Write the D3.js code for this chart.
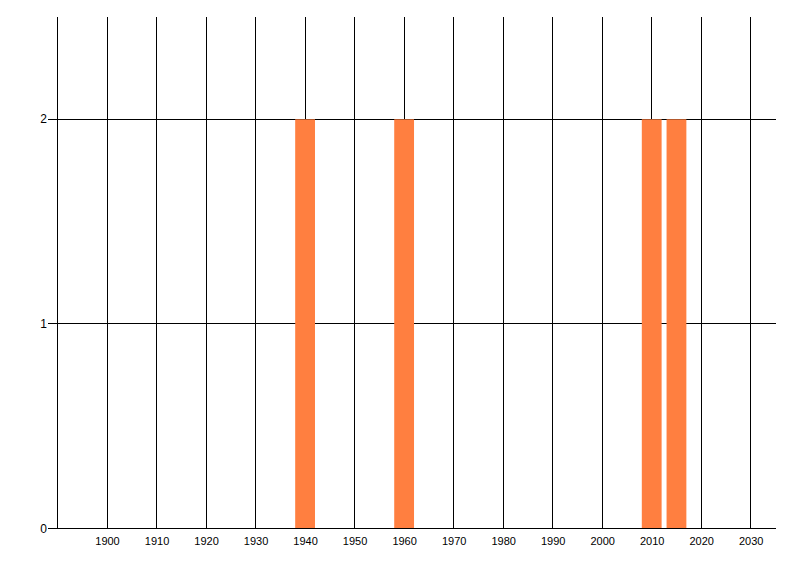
<!DOCTYPE html>
<html><head><meta charset="utf-8">
<script src="https://cdn.jsdelivr.net/npm/d3@7"></script>
<style>body{margin:0;background:#fff}svg{display:block}</style>
</head><body>
<svg id="c" width="800" height="576"></svg>
<script>
const years = [1940, 1960, 2010, 2015];
const counts = [2, 2, 2, 2];
const xTicks = [1900, 1910, 1920, 1930, 1940, 1950, 1960, 1970, 1980, 1990, 2000, 2010, 2020, 2030];
const yTicks = [0, 1, 2];

const svg = d3.select("#c");
const x = d3.scaleLinear().domain([1890, 2035]).range([57.5, 775.5]);
const y = d3.scaleLinear().domain([0, 2.5]).range([528.5, 17]);
const crisp = v => Math.floor(v) + 0.5;
const font = "'Liberation Sans', Arial, sans-serif";

// vertical gridlines
svg.append("g").selectAll("line").data(xTicks).join("line")
  .attr("x1", d => crisp(x(d))).attr("x2", d => crisp(x(d)))
  .attr("y1", y(2.5)).attr("y2", crisp(y(0)))
  .attr("stroke", "#000").attr("stroke-width", 1);

// horizontal gridlines (with tick extension left of axis)
svg.append("g").selectAll("line").data(yTicks).join("line")
  .attr("x1", 48).attr("x2", 776)
  .attr("y1", d => crisp(y(d))).attr("y2", d => crisp(y(d)))
  .attr("stroke", "#000").attr("stroke-width", 1);

// left axis line
svg.append("line")
  .attr("x1", crisp(x(1890))).attr("x2", crisp(x(1890)))
  .attr("y1", y(2.5)).attr("y2", crisp(y(0)))
  .attr("stroke", "#000");

// bars
svg.append("g").selectAll("rect").data(years).join("rect")
  .attr("x", d => x(d - 2))
  .attr("width", d => x(d + 2) - x(d - 2))
  .attr("y", (d, i) => y(counts[i]))
  .attr("height", (d, i) => y(0) - 0.5 - y(counts[i]))
  .attr("fill", "#ff7f40");

// x labels
svg.append("g").selectAll("text").data(xTicks).join("text")
  .attr("x", d => x(d) + 0.5).attr("y", 545)
  .attr("text-anchor", "middle")
  .attr("font-family", font).attr("font-size", 11)
  .attr("fill", "#000")
  .text(d => d);

// y labels
svg.append("g").selectAll("text").data(yTicks).join("text")
  .attr("x", 47).attr("y", d => y(d) + 4)
  .attr("text-anchor", "end")
  .attr("font-family", font).attr("font-size", 12)
  .attr("fill", "#000")
  .text(d => d);
</script>
</body></html>
